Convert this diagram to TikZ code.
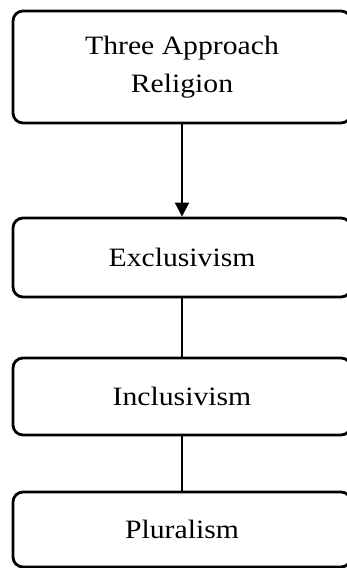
\documentclass[tikz,border=0pt]{standalone}
\usepackage{fontspec}
\setmainfont{Liberation Serif}[FakeStretch=1.12]
\usetikzlibrary{arrows.meta}
\tikzset{
  box/.style={draw, line width=2.8pt, rounded corners=10pt, minimum width=338pt, inner sep=0pt, align=center, font=\fontsize{26.5}{38}\selectfont},
  conn/.style={line width=1.2pt},
  arr/.style={line width=1.8pt, -{Triangle[width=14pt,length=14pt]}}
}
\begin{document}
\begin{tikzpicture}[x=1pt,y=1pt]
\useasboundingbox (0,0) rectangle (346,-568);
\node[box, minimum height=112pt] (top) at (182,-67) {Three Approach\\Religion};
\node[box, minimum height=79pt] (ex) at (182,-257.5) {Exclusivism};
\node[box, minimum height=77pt] (in) at (182,-396.5) {Inclusivism};
\node[box, minimum height=75pt] (pl) at (182,-529.5) {Pluralism};
\draw[arr] (top.south) -- (ex.north);
\draw[conn] (ex.south) -- (in.north);
\draw[conn] (in.south) -- (pl.north);
\end{tikzpicture}
\end{document}
